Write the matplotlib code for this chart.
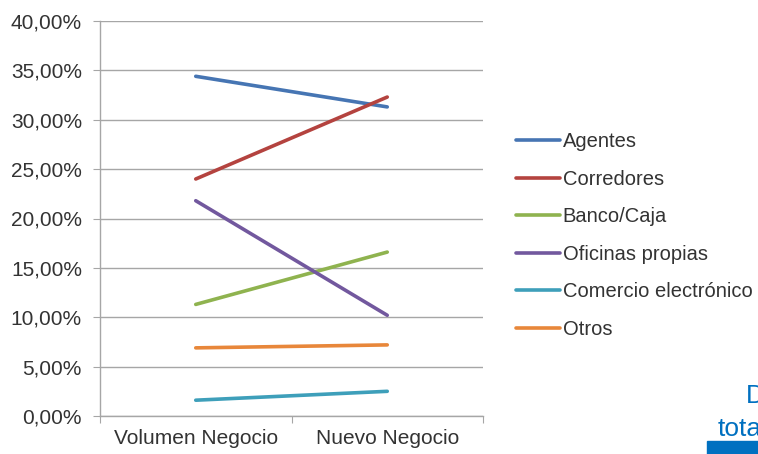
import matplotlib
matplotlib.use("Agg")
import matplotlib.pyplot as plt
from matplotlib.ticker import FuncFormatter, MultipleLocator
from matplotlib.patches import Rectangle

# canales de distribución: cuota sobre volumen y nuevo negocio (%)
categorias = ["Volumen Negocio", "Nuevo Negocio"]
canales = ["Agentes", "Corredores", "Banco/Caja", "Oficinas propias",
           "Comercio electrónico", "Otros"]
agentes = [34.4, 31.3]
corredores = [24.0, 32.3]
banco_caja = [11.3, 16.6]
oficinas = [21.8, 10.2]
comercio = [1.6, 2.5]
otros = [6.9, 7.2]
series = [agentes, corredores, banco_caja, oficinas, comercio, otros]
colores = ["#4675B3", "#B4433F", "#8FB34F", "#72589E", "#3E9FBA", "#E8873A"]

plt.rcParams['font.family'] = ['Liberation Sans', 'DejaVu Sans']
fs = 15

fig = plt.figure(figsize=(7.58, 4.54), dpi=100)
ax = fig.add_axes([100/758, 38/454, 383/758, 395/454])

xpos = [0.5, 1.5]
for vals, nombre, c in zip(series, canales, colores):
    ax.plot(xpos, vals, color=c, lw=2.6, label=nombre, solid_capstyle="round")

ax.set_xlim(0, 2)
ax.set_ylim(0, 40)
ax.yaxis.set_major_locator(MultipleLocator(5))
ax.yaxis.set_major_formatter(FuncFormatter(lambda v, p: ("%.2f%%" % v).replace(".", ",")))
ax.set_xticks([0, 1, 2])
ax.set_xticklabels([])
ax.set_xticks(xpos, minor=True)
ax.set_xticklabels(categorias, minor=True)
ax.tick_params(axis="x", which="minor", length=0, pad=9, labelsize=fs, labelcolor="#333333")
ax.tick_params(axis="x", which="major", length=5, color="#A6A6A6")
ax.tick_params(axis="y", length=5, color="#A6A6A6", pad=8, labelsize=fs, labelcolor="#333333")

ax.grid(axis="y", color="#A6A6A6", lw=1)
ax.set_axisbelow(True)
for s in ["top", "right"]:
    ax.spines[s].set_visible(False)
for s in ["left", "bottom"]:
    ax.spines[s].set_color("#A6A6A6")
    ax.spines[s].set_linewidth(1)

fig.legend(loc="upper left", bbox_to_anchor=(508/758, 1 - 124/454), frameon=False,
           handlelength=2.2, handletextpad=0.12, labelspacing=0.92, fontsize=14.5,
           labelcolor="#333333", borderaxespad=0)

# texto recortado del margen
fig.text(746/758, 1 - 403/454, "D", color="#0070C0", fontsize=19, va="baseline", ha="left")
fig.text(718/758, 1 - 436/454, "tota", color="#0070C0", fontsize=19, va="baseline", ha="left")
fig.patches.append(Rectangle((707/758, 0), 51/758, 13/454, transform=fig.transFigure,
                             color="#0070C0", figure=fig))

fig.savefig("out.png", dpi=100)
